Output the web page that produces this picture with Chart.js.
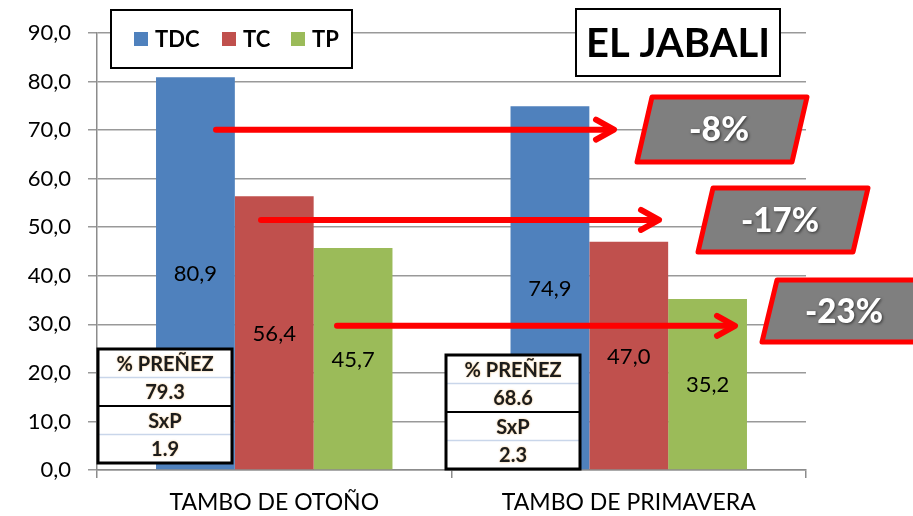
<!DOCTYPE html>
<html>
<head>
<meta charset="utf-8">
<script src="https://cdn.jsdelivr.net/npm/chart.js@4.4.0/dist/chart.umd.min.js"></script>
<style>
  body { margin: 0; background: #fff; }
</style>
</head>
<body>
<canvas id="chart" width="913" height="516"></canvas>
<script>
// data
const categories = ['TAMBO DE OTOÑO', 'TAMBO DE PRIMAVERA']
const seriesNames = ['TDC', 'TC', 'TP']
const tdcValues = [80.9, 74.9]
const tcValues = [56.4, 47.0]
const tpValues = [45.7, 35.2]
const seriesColors = ['#4F81BD', '#C0504D', '#9BBB59']

// drop from autumn to spring, and the level each arrow sits at
const changeLabels = ['-8%', '-17%', '-23%']
const arrowLevels = [70.1, 51.5, 29.7]

// little tables under the first bar of each group
const tableTexts = [
  ['% PREÑEZ', '79.3', 'SxP', '1.9'],
  ['% PREÑEZ', '68.6', 'SxP', '2.3']
]
const titleText = 'EL JABALI'

const fmt = v => v.toFixed(1).replace('.', ',')
const FONT = 'Lato'

// everything drawn on top of the bars
const overlay = {
  id: 'overlay',
  afterDatasetsDraw(chart) {
    const ctx = chart.ctx
    const y = chart.scales.y
    const area = chart.chartArea

    // value labels in the middle of each bar
    ctx.save()
    ctx.font = '22px ' + FONT
    ctx.fillStyle = '#000'
    ctx.textAlign = 'center'
    ctx.textBaseline = 'middle'
    chart.data.datasets.forEach((ds, i) => {
      chart.getDatasetMeta(i).data.forEach((bar, j) => {
        ctx.fillText(fmt(ds.data[j]), bar.x, (bar.y + bar.base) / 2 + 1)
      })
    })
    ctx.restore()

    // tables
    const tables = [
      {x: area.left + 1, y: 349},
      {x: 446, y: 355}
    ]
    tables.forEach((t, k) => {
      const w = 134, h = 114, rh = h / 4
      ctx.save()
      ctx.fillStyle = '#fff'
      ctx.fillRect(t.x, t.y, w, h)
      ctx.strokeStyle = '#c9d6ea'
      ctx.lineWidth = 1.5
      ;[1, 3].forEach(r => {
        ctx.beginPath()
        ctx.moveTo(t.x, t.y + rh * r)
        ctx.lineTo(t.x + w, t.y + rh * r)
        ctx.stroke()
      })
      ctx.strokeStyle = '#000'
      ctx.lineWidth = 2
      ctx.beginPath()
      ctx.moveTo(t.x, t.y + rh * 2)
      ctx.lineTo(t.x + w, t.y + rh * 2)
      ctx.stroke()
      ctx.lineWidth = 3
      ctx.strokeRect(t.x, t.y, w, h)
      ctx.font = 'bold 20px ' + FONT
      ctx.textAlign = 'center'
      ctx.textBaseline = 'middle'
      ctx.fillStyle = '#1c1c1c'
      ctx.shadowColor = 'rgba(235,160,60,0.7)'
      ctx.shadowBlur = 2
      tableTexts[k].forEach((txt, r) => {
        ctx.fillText(txt, t.x + w / 2, t.y + rh * r + rh / 2 + 1, 108)
      })
      ctx.restore()
    })

    // arrows
    const arrowStarts = [216, 261, 337]
    ctx.save()
    ctx.strokeStyle = '#ff0000'
    ctx.lineWidth = 6
    ctx.lineCap = 'round'
    ctx.lineJoin = 'round'
    arrowLevels.forEach((lv, i) => {
      const py = y.getPixelForValue(lv)
      const x0 = arrowStarts[i], x1 = x0 + 398
      ctx.beginPath()
      ctx.moveTo(x0, py)
      ctx.lineTo(x1 - 2, py)
      ctx.stroke()
      ctx.beginPath()
      ctx.moveTo(x1 - 18, py - 10)
      ctx.lineTo(x1, py)
      ctx.lineTo(x1 - 18, py + 10)
      ctx.stroke()
    })
    ctx.restore()

    // grey parallelograms with the percentage drop
    const boxes = [
      {x: 652, top: 97, bottom: 162},
      {x: 713, top: 188, bottom: 252},
      {x: 777, top: 280, bottom: 342}
    ]
    boxes.forEach((b, i) => {
      const w = 155, slant = 15
      ctx.save()
      ctx.beginPath()
      ctx.moveTo(b.x, b.top)
      ctx.lineTo(b.x + w, b.top)
      ctx.lineTo(b.x + w - slant, b.bottom)
      ctx.lineTo(b.x - slant, b.bottom)
      ctx.closePath()
      ctx.fillStyle = '#7f7f7f'
      ctx.fill()
      ctx.strokeStyle = '#ff0000'
      ctx.lineWidth = 5
      ctx.lineJoin = 'round'
      ctx.stroke()
      ctx.font = '900 34px ' + FONT
      ctx.textAlign = 'center'
      ctx.textBaseline = 'middle'
      ctx.fillStyle = '#fff'
      ctx.shadowColor = 'rgba(0,0,0,0.6)'
      ctx.shadowBlur = 3
      ctx.shadowOffsetX = 1
      ctx.shadowOffsetY = 1
      ctx.fillText(changeLabels[i], b.x + w / 2 - slant / 2 - 3, (b.top + b.bottom) / 2 + 1, i === 0 ? 60 : 78)
      ctx.restore()
    })

    // legend box
    ctx.save()
    ctx.fillStyle = '#fff'
    ctx.fillRect(111, 10, 241, 58)
    ctx.strokeStyle = '#000'
    ctx.lineWidth = 2
    ctx.strokeRect(111, 10, 241, 58)
    const legendX = [134, 222, 291]
    ctx.font = 'bold 22px ' + FONT
    ctx.textBaseline = 'middle'
    seriesNames.forEach((name, i) => {
      ctx.fillStyle = seriesColors[i]
      ctx.fillRect(legendX[i], 32, 14, 14)
      ctx.fillStyle = '#000'
      ctx.fillText(name, legendX[i] + 21, 40)
    })
    ctx.restore()

    // title box
    ctx.save()
    ctx.fillStyle = '#fff'
    ctx.fillRect(576, 9, 204, 67)
    ctx.strokeStyle = '#000'
    ctx.lineWidth = 2
    ctx.strokeRect(576, 9, 204, 67)
    ctx.font = 'bold 40px ' + FONT
    ctx.textAlign = 'center'
    ctx.textBaseline = 'middle'
    ctx.fillStyle = '#000'
    ctx.fillText(titleText, 678, 44, 184)
    ctx.restore()
  }
}

new Chart(document.getElementById('chart'), {
  type: 'bar',
  data: {
    labels: categories,
    datasets: [
      {label: seriesNames[0], data: tdcValues, backgroundColor: seriesColors[0]},
      {label: seriesNames[1], data: tcValues, backgroundColor: seriesColors[1]},
      {label: seriesNames[2], data: tpValues, backgroundColor: seriesColors[2]}
    ]
  },
  options: {
    responsive: false,
    animation: false,
    datasets: {bar: {categoryPercentage: 0.667, barPercentage: 1}},
    layout: {padding: {left: 0, right: 107, top: 33, bottom: 0}},
    plugins: {legend: {display: false}, tooltip: {enabled: false}},
    scales: {
      x: {
        grid: {drawOnChartArea: false, drawTicks: true, tickLength: 8, color: '#8c8c8c', lineWidth: 1.5, offset: true},
        border: {color: '#8c8c8c', width: 1.5},
        ticks: {color: '#000', font: {family: FONT, size: 23}, padding: 11},
        afterFit: s => { s.height = 46 }
      },
      y: {
        min: 0,
        max: 90,
        ticks: {stepSize: 10, color: '#000', font: {family: FONT, size: 22}, padding: 17, callback: v => fmt(v)},
        grid: {color: '#999', lineWidth: 1.5, tickLength: 9},
        border: {color: '#8c8c8c', width: 1.5},
        afterFit: s => { s.width = 97 }
      }
    }
  },
  plugins: [overlay]
})
</script>
</body>
</html>
